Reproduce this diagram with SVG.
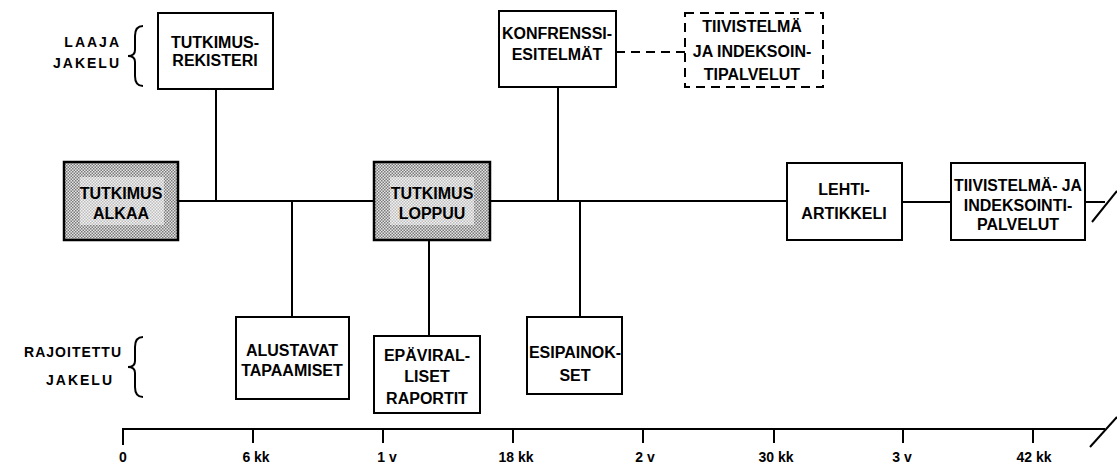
<svg xmlns="http://www.w3.org/2000/svg" width="1117" height="466" viewBox="0 0 1117 466">
<defs>
<pattern id="dots" width="3" height="3" patternUnits="userSpaceOnUse">
<rect width="3" height="3" fill="#e4e4e4"/>
<rect width="1.5" height="1.5" fill="#7a7a7a"/>
<rect x="1.5" y="1.5" width="1.5" height="1.5" fill="#7a7a7a"/>
</pattern>
</defs>
<style>
.box{fill:#fff;stroke:#000;stroke-width:2}
.shade{fill:url(#dots);stroke:#000;stroke-width:2.5}
.dash{fill:#fff;stroke:#000;stroke-width:2;stroke-dasharray:9 6}
.ln{stroke:#000;stroke-width:2;fill:none}
.t{font-family:"Liberation Sans",Arial,sans-serif;font-weight:bold;font-size:16px;text-anchor:middle;fill:#000}
.side{font-family:"Liberation Sans",Arial,sans-serif;font-weight:bold;font-size:14px;letter-spacing:2px;text-anchor:end;fill:#000}
.ax{font-family:"Liberation Sans",Arial,sans-serif;font-weight:bold;font-size:14px;text-anchor:middle;fill:#000}
</style>
<rect width="1117" height="466" fill="#fff"/>

<g id="connectors">
<line class="ln" x1="178" y1="201" x2="374" y2="201"/>
<line class="ln" x1="490" y1="201" x2="787" y2="201"/>
<line class="ln" x1="902" y1="202" x2="951" y2="202"/>
<line class="ln" x1="1085" y1="202" x2="1105" y2="202"/>
<line class="ln" x1="1092" y1="222" x2="1117" y2="191"/>
<line class="ln" x1="216" y1="89" x2="216" y2="201"/>
<line class="ln" x1="292" y1="201" x2="292" y2="317"/>
<line class="ln" x1="429" y1="240" x2="429" y2="336"/>
<line class="ln" x1="558" y1="87" x2="558" y2="201"/>
<line class="ln" x1="580" y1="201" x2="580" y2="317"/>
<line class="ln" x1="616" y1="52" x2="685" y2="52" stroke-dasharray="9 6"/>
</g>

<g id="legend-laaja">
<text class="side" x="121" y="47">LAAJA</text>
<text class="side" x="121" y="68">JAKELU</text>
<path class="ln" d="M143,26 Q135,26 135,36 L135,50 Q135,56 128,56 Q135,56 135,62 L135,76 Q135,86 143,86" stroke-width="3.2"/>
</g>
<g id="legend-rajoitettu">
<text class="side" x="122" y="357" style="letter-spacing:1px">RAJOITETTU</text>
<text class="side" x="114" y="385">JAKELU</text>
<path class="ln" d="M143,337 Q135,337 135,347 L135,361 Q135,367 128,367 Q135,367 135,373 L135,387 Q135,397 143,397" stroke-width="3.2"/>
</g>

<g id="tutkimusrekisteri">
<rect class="box" x="158" y="13" width="115" height="76"/>
<text class="t" x="215" y="48">TUTKIMUS-</text>
<text class="t" x="215" y="66">REKISTERI</text>
</g>

<g id="konfrenssiesitelmat">
<rect class="box" x="499" y="11" width="117" height="76"/>
<text class="t" x="557" y="39">KONFRENSSI-</text>
<text class="t" x="557" y="60">ESITELMÄT</text>
</g>

<g id="tiivistelma-dashed">
<rect class="dash" x="685" y="13" width="138" height="74"/>
<text class="t" x="752" y="32">TIIVISTELMÄ</text>
<text class="t" x="752" y="57">JA INDEKSOIN-</text>
<text class="t" x="752" y="80">TIPALVELUT</text>
</g>

<g id="tutkimusalkaa">
<rect class="shade" x="64" y="162" width="114" height="78"/>
<rect x="80" y="177" width="84" height="48" fill="#fff" opacity="0.5"/>
<text class="t" x="121" y="199">TUTKIMUS</text>
<text class="t" x="121" y="219">ALKAA</text>
</g>

<g id="tutkimusloppuu">
<rect class="shade" x="374" y="162" width="116" height="78"/>
<rect x="390" y="177" width="84" height="48" fill="#fff" opacity="0.5"/>
<text class="t" x="432" y="199">TUTKIMUS</text>
<text class="t" x="432" y="219">LOPPUU</text>
</g>

<g id="lehtiartikkeli">
<rect class="box" x="787" y="163" width="115" height="77"/>
<text class="t" x="844" y="195">LEHTI-</text>
<text class="t" x="844" y="219">ARTIKKELI</text>
</g>

<g id="tiivistelma">
<rect class="box" x="951" y="163" width="134" height="77"/>
<text class="t" x="1018" y="191" textLength="128" lengthAdjust="spacingAndGlyphs">TIIVISTELMÄ- JA</text>
<text class="t" x="1018" y="211">INDEKSOINTI-</text>
<text class="t" x="1018" y="230">PALVELUT</text>
</g>

<g id="alustavat">
<rect class="box" x="236" y="317" width="113" height="82"/>
<text class="t" x="292" y="356">ALUSTAVAT</text>
<text class="t" x="292" y="376">TAPAAMISET</text>
</g>

<g id="epaviralliset">
<rect class="box" x="374" y="336" width="106" height="77"/>
<text class="t" x="427" y="361">EPÄVIRAL-</text>
<text class="t" x="427" y="382">LISET</text>
<text class="t" x="427" y="404">RAPORTIT</text>
</g>

<g id="esipainokset">
<rect class="box" x="527" y="317" width="95" height="77"/>
<text class="t" x="575" y="358">ESIPAINOK-</text>
<text class="t" x="575" y="381">SET</text>
</g>

<g id="axis">
<line class="ln" x1="123" y1="429" x2="1105" y2="429"/>
<line class="ln" x1="1090" y1="447" x2="1117" y2="417"/>
<g class="ln" stroke-width="2.5">
<line x1="123" y1="428" x2="123" y2="445"/>
<line x1="253" y1="429" x2="253" y2="443"/>
<line x1="383" y1="429" x2="383" y2="443"/>
<line x1="513" y1="429" x2="513" y2="443"/>
<line x1="643" y1="429" x2="643" y2="443"/>
<line x1="774" y1="429" x2="774" y2="443"/>
<line x1="903" y1="429" x2="903" y2="443"/>
<line x1="1033" y1="429" x2="1033" y2="443"/>
</g>
<text class="ax" x="123" y="462">0</text>
<text class="ax" x="256" y="462">6 kk</text>
<text class="ax" x="387" y="462">1 v</text>
<text class="ax" x="516" y="462">18 kk</text>
<text class="ax" x="645" y="462">2 v</text>
<text class="ax" x="776" y="462">30 kk</text>
<text class="ax" x="902" y="462">3 v</text>
<text class="ax" x="1034" y="462">42 kk</text>
</g>
</svg>
